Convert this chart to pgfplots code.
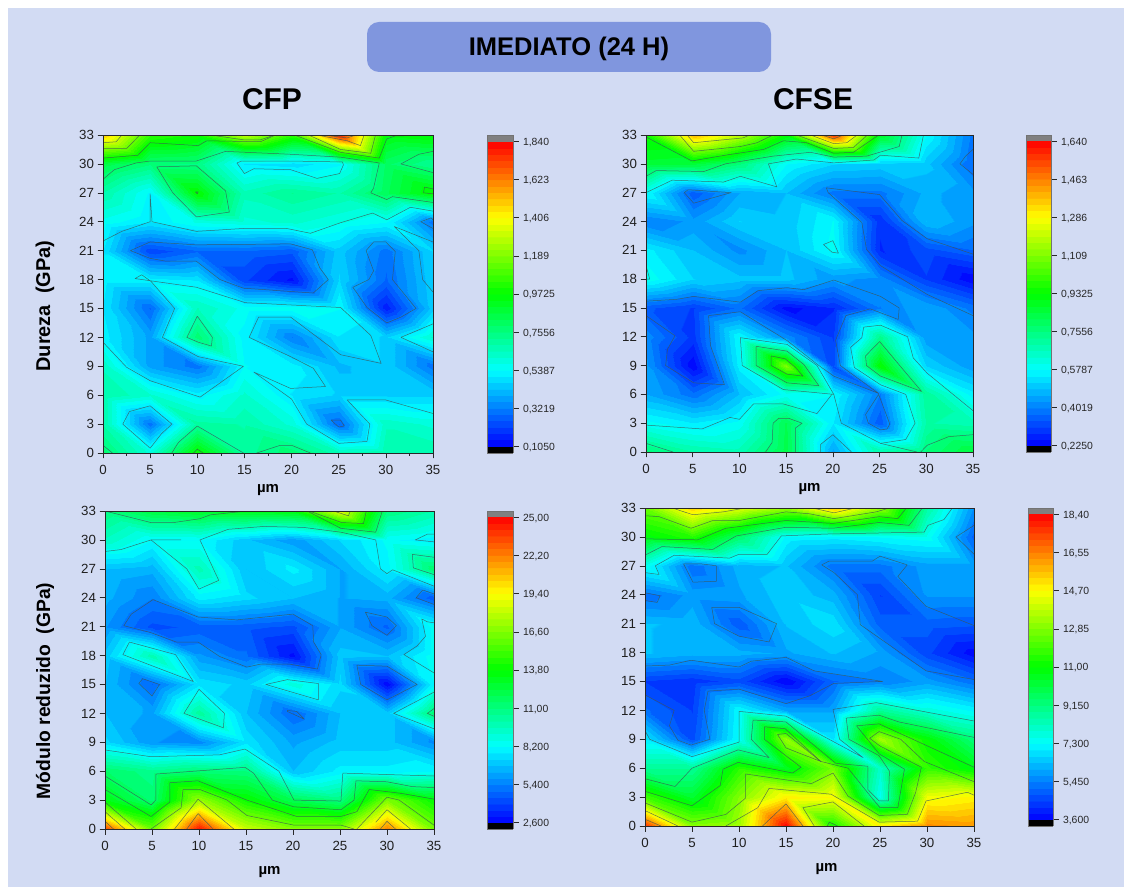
\documentclass[border=0pt]{standalone}
\usepackage{pgfplots}
\pgfplotsset{compat=1.18}
\usepackage{fontspec}
\setmainfont{Liberation Sans}
\definecolor{bgc}{RGB}{210,219,243}
\definecolor{boxc}{RGB}{128,150,222}
\definecolor{axc}{RGB}{40,40,40}
\definecolor{isoc}{RGB}{60,85,85}

% banded colour map: 48 bands, 6 per tick interval
\gdef\cmapclean{}
\foreach \k in {0,...,47}{%
  \pgfmathsetmacro\tt{(\k+0.5)/6}%
  \pgfmathtruncatemacro\R{\tt<4?0:(\tt<6?(\tt-4)/2*255:255)}%
  \pgfmathtruncatemacro\G{\tt<2?\tt/2*255:(\tt<6?255:(8-\tt)/2*255)}%
  \pgfmathtruncatemacro\B{\tt<2?255:(\tt<4?(4-\tt)/2*255:0)}%
  \pgfmathtruncatemacro\pa{\k*20}%
  \pgfmathtruncatemacro\pb{\k*20+19}%
  \xdef\cmapclean{\cmapclean rgb255(\pa)=(\R,\G,\B) rgb255(\pb)=(\R,\G,\B) }%
}
\edef\tmp{\noexpand\pgfplotsset{colormap={clean}{\cmapclean}}}\tmp
\newcommand\iso[1]{\addplot3[color=isoc,line width=0.5pt,opacity=0.8,line join=round] table[header=false,x index=0,y index=1,z expr=0,row sep=\\]{#1};}

\pgfplotsset{
  panel/.style={
    view={0}{90}, scale only axis,
    xmin=0,xmax=35,ymin=0,ymax=33,
    xtick={0,5,...,35}, ytick={0,3,...,33},
    minor x tick num=0, minor y tick num=0,
    tick align=outside, axis line style={color=axc,line width=0.8pt},
    every tick/.style={color=axc,line width=0.6pt},
    major tick length=5.5pt, minor tick length=3pt,
    tick pos=left,
    /pgf/number format/assume math mode=true,
    tick label style={font=\fontsize{13.3}{14}\selectfont,color=black!88},
    xticklabel style={yshift=-3pt},
    xlabel={\textbf{µm}},
    xlabel style={font=\fontsize{15}{16}\selectfont,yshift=-3.5pt},
    colormap name=clean,
    anchor=south west,
    axis on top,
  },
  bar/.style={
    view={0}{90}, scale only axis,
    xmin=0,xmax=1,
    xtick=\empty,
    ytick pos=right, yticklabel pos=right,
    tick align=outside, axis line style={color=black!55,line width=0.8pt},
    every tick/.style={color=axc,line width=0.6pt},
    major tick length=5.5pt,
    tick label style={font=\fontsize{10.4}{12}\selectfont,color=black!85},
    yticklabel style={yshift=-1pt,xshift=1pt},
    colormap name=clean,
    anchor=south west,
    axis on top,
  },
}
\begin{document}
\begin{tikzpicture}[x=1pt,y=1pt]
\path[use as bounding box] (0,0) rectangle (1124,887);
\fill[white] (0,0) rectangle (1124,887);
\fill[bgc] (8,0) rectangle (1124,879);
\fill[boxc,rounded corners=12pt] (367,815) rectangle (771,865);
\node[font=\fontsize{25.5}{26}\selectfont\bfseries] at (569,838.5) {IMEDIATO (24 H)};
\node[font=\fontsize{30}{30}\selectfont\bfseries] at (272,788) {CFP};
\node[font=\fontsize{30}{30}\selectfont\bfseries] at (813,788) {CFSE};
\node[rotate=90,font=\fontsize{20}{20}\selectfont\bfseries] at (45,581) {Dureza\ \ (GPa)};
\node[rotate=90,font=\fontsize{19.3}{20}\selectfont\bfseries] at (45,196) {Módulo reduzido\ \ (GPa)};

% ---- CFP Dureza
\begin{axis}[panel,minor x tick num=1,at={(103pt,434pt)},width=330pt,height=318pt]
\addplot3[surf,shader=interp,point meta min=0.105,point meta max=1.84] coordinates {
(0,33,1.50) (5,33,1.05) (10,33,1.00) (15,33,1.30) (20,33,1.05) (25,33,1.80) (30,33,0.95) (35,33,0.98)

(0,30,0.85) (5,30,0.76) (10,30,0.75) (15,30,0.50) (20,30,0.48) (25,30,0.53) (30,30,0.80) (35,30,0.72)

(0,27,0.68) (5,27,0.53) (10,27,0.98) (15,27,0.66) (20,27,0.72) (25,27,0.68) (30,27,0.82) (35,27,0.98)

(0,24,0.56) (5,24,0.50) (10,24,0.58) (15,24,0.60) (20,24,0.62) (25,24,0.58) (30,24,0.54) (35,24,0.30)

(0,21,0.50) (5,21,0.22) (10,21,0.28) (15,21,0.28) (20,21,0.26) (25,21,0.45) (30,21,0.30) (35,21,0.47)

(0,18,0.52) (5,18,0.52) (10,18,0.50) (15,18,0.22) (20,18,0.13) (25,18,0.47) (30,18,0.28) (35,18,0.46)

(0,15,0.50) (5,15,0.28) (10,15,0.65) (15,15,0.56) (20,15,0.56) (25,15,0.54) (30,15,0.15) (35,15,0.45)

(0,12,0.52) (5,12,0.38) (10,12,0.78) (15,12,0.52) (20,12,0.32) (25,12,0.50) (30,12,0.46) (35,12,0.62)

(0,9,0.64) (5,9,0.38) (10,9,0.30) (15,9,0.54) (20,9,0.52) (25,9,0.42) (30,9,0.46) (35,9,0.30)

(0,6,0.68) (5,6,0.62) (10,6,0.52) (15,6,0.62) (20,6,0.50) (25,6,0.46) (30,6,0.46) (35,6,0.46)

(0,3,0.68) (5,3,0.30) (10,3,0.70) (15,3,0.68) (20,3,0.60) (25,3,0.28) (30,3,0.64) (35,3,0.60)

(0,0,0.78) (5,0,0.60) (10,0,0.99) (15,0,0.70) (20,0,0.78) (25,0,0.66) (30,0,0.68) (35,0,0.68)
};
\iso{0 32.2\\1.4 32.3\\2 33\\}
\iso{0 31.6\\2.5 31.6\\3.9 33\\}
\iso{0 30.6\\3.7 30.9\\5 32.2\\10.1 31.9\\11 32.4\\16.7 32.3\\18.3 33\\}
\iso{11.4 33\\14.9 32.5\\16.7 32.5\\18.2 33\\}
\iso{20.3 33\\25.2 31.2\\29.3 30.6\\30.1 32.6\\31 32.9\\35 33\\}
\iso{21.8 33\\25.2 31.5\\28.4 31.1\\28.9 33\\}
\iso{22.7 33\\25.9 32.4\\27.3 31.9\\27.7 33\\}
\iso{23.4 33\\25.9 32.7\\26.8 33\\}
\iso{0 28.4\\1.2 29.4\\3.5 30.1\\5 30.3\\9.9 30.3\\13 31.3\\19.9 31\\25.2 30.7\\29.3 30.1\\28.7 27.5\\28.4 27\\30.1 26.3\\30.7 26.6\\35 26\\}
\iso{35 31.3\\33.5 31\\31.6 30\\35 29.1\\}
\iso{5.7 29.7\\9.9 29.8\\13 27.2\\13.4 25\\9.9 24.5\\7.4 27\\5.7 29.7\\}
\iso{9.8 27.1\\10.1 27.1\\10 26.9\\9.8 27.1\\}
\iso{35 27.4\\34.1 27.6\\34 27\\35 26.9\\}
\iso{14.2 30.1\\14.7 30.3\\19.9 30.3\\25.4 30.2\\25.5 29.9\\25.1 29\\22.7 28.5\\19.9 29.4\\16 29.5\\15 29\\14.2 30.1\\}
\iso{0 22\\2 23\\5 24\\5 26.9\\5.2 24\\9.9 23\\14.9 23.3\\19.5 23.3\\22 22.8\\25.2 23.9\\28.6 24.9\\30.1 24.2\\32.6 25.5\\35 25.1\\}
\iso{35 21.9\\30.9 23.5\\33.5 21\\33.9 18\\35 16.7\\}
\iso{2.9 21\\5 21.9\\9.9 21.6\\19.9 21.7\\22.2 21.1\\23 19.2\\23.9 18\\22.3 16.6\\14.9 17.1\\12.4 18\\9.9 19.9\\6.7 19.9\\5 20.2\\2.9 21\\}
\iso{27.9 21\\28.7 21.9\\30 21.9\\31 20.9\\30.7 18\\33.2 15\\31.6 14.1\\30.1 13.5\\28 15.1\\26.5 17.2\\28.2 18\\28.7 18.9\\27.9 21\\}
\iso{35 23.3\\33.7 24\\34.8 24.4\\35 24.2\\}
\iso{0 11.5\\2.5 8.9\\5 7.5\\10.3 5.8\\14.9 9\\10.1 10\\6.3 12\\7.6 15\\5.1 17.8\\4.1 18.5\\3.4 18.1\\9.9 17.2\\15.1 15.6\\25.2 15.1\\28.4 12.2\\29.5 9.3\\25.2 10.2\\19.9 14.1\\16.5 14.1\\15.5 12\\19.9 10\\22.3 8.8\\23.6 6.9\\19.9 6.7\\16 8.4\\20 5.6\\21.6 3\\25 1\\28 1.2\\28.3 3\\25.9 5.5\\30 5.5\\35 4.1\\}
\iso{10 14.2\\11.6 12\\11.5 11.1\\10.1 11.5\\8.9 12\\10 14.2\\}
\iso{35 13.4\\31.6 12\\35 10.5\\}
\iso{2.8 4.3\\5 4.9\\7.3 3\\6.2 2\\5 0.5\\2.1 3\\2.8 4.3\\}
\iso{24.2 3.4\\25.2 3.4\\25.6 2.8\\25 2.7\\24.2 3.4\\}
\iso{0 0.8\\1 0\\}
\iso{7.3 0\\8 1.1\\10 2.8\\14.9 0\\}
\iso{16.3 0\\18.8 0.8\\20 0.8\\22 0\\}
\iso{9.6 0\\10 0.4\\10.6 0\\}
\end{axis}
\begin{axis}[bar,at={(487pt,434pt)},width=26pt,height=318pt,ymin=0.068,ymax=1.877,
  ytick={0.105,0.3219,0.5387,0.7556,0.9725,1.189,1.406,1.623,1.84},
  yticklabels={{0,1050},{0,3219},{0,5387},{0,7556},{0,9725},{1,189},{1,406},{1,623},{1,840}}]
\addplot3[fill=black,draw=none] coordinates {(0,0.068,0) (1,0.068,0) (1,0.105,0) (0,0.105,0)} -- cycle;
\addplot3[fill=gray,draw=none] coordinates {(0,1.84,0) (1,1.84,0) (1,1.877,0) (0,1.877,0)} -- cycle;
\addplot3[surf,shader=interp,point meta=y,point meta min=0.105,point meta max=1.84] coordinates {
(0,0.105,0) (1,0.105,0)

(0,1.84,0) (1,1.84,0)
};
\end{axis}

% ---- CFSE Dureza
\begin{axis}[panel,at={(646pt,435pt)},width=327pt,height=317pt]
\addplot3[surf,shader=interp,point meta min=0.225,point meta max=1.64] coordinates {
(0,33,0.95) (5,33,1.39) (10,33,1.20) (15,33,0.93) (20,33,1.57) (25,33,0.88) (30,33,0.58) (35,33,0.39)

(0,30,0.86) (5,30,0.85) (10,30,0.76) (15,30,0.58) (20,30,0.52) (25,30,0.51) (30,30,0.50) (35,30,0.37)

(0,27,0.58) (5,27,0.35) (10,27,0.46) (15,27,0.49) (20,27,0.39) (25,27,0.39) (30,27,0.47) (35,27,0.44)

(0,24,0.40) (5,24,0.44) (10,24,0.52) (15,24,0.50) (20,24,0.58) (25,24,0.29) (30,24,0.49) (35,24,0.44)

(0,21,0.56) (5,21,0.49) (10,21,0.42) (15,21,0.49) (20,21,0.59) (25,21,0.28) (30,21,0.33) (35,21,0.37)

(0,18,0.60) (5,18,0.52) (10,18,0.50) (15,18,0.50) (20,18,0.44) (25,18,0.42) (30,18,0.31) (35,18,0.23)

(0,15,0.35) (5,15,0.31) (10,15,0.38) (15,15,0.24) (20,15,0.28) (25,15,0.40) (30,15,0.46) (35,15,0.39)

(0,12,0.42) (5,12,0.30) (10,12,0.58) (15,12,0.42) (20,12,0.31) (25,12,0.74) (30,12,0.44) (35,12,0.44)

(0,9,0.44) (5,9,0.23) (10,9,0.56) (15,9,1.11) (20,9,0.33) (25,9,0.94) (30,9,0.52) (35,9,0.44)

(0,6,0.46) (5,6,0.38) (10,6,0.49) (15,6,0.59) (20,6,0.58) (25,6,0.40) (30,6,0.72) (35,6,0.56)

(0,3,0.59) (5,3,0.55) (10,3,0.59) (15,3,0.82) (20,3,0.55) (25,3,0.35) (30,3,0.70) (35,3,0.68)

(0,0,0.77) (5,0,0.70) (10,0,0.68) (15,0,0.83) (20,0,0.45) (25,0,0.70) (30,0,0.76) (35,0,0.85)
};
\iso{0 28.7\\1.1 29.3\\6.2 29.2\\8.5 30\\13.6 30.8\\17.6 31.2\\20.1 30.7\\23.6 30.8\\27.1 31.8\\27.4 33\\}
\iso{0 32.8\\4.9 30.3\\8.5 30.9\\12.6 31.5\\14.7 32.4\\17.2 32.2\\20.1 31.1\\22.2 31.2\\24.9 33\\}
\iso{3.6 33\\5.1 31.3\\10.1 31.8\\11.9 32.2\\13.6 33\\}
\iso{16.1 33\\20.1 31.6\\22.2 31.7\\23.7 33\\}
\iso{4.4 33\\5.1 32.2\\10.4 32.7\\11.1 33\\}
\iso{17.6 33\\20.1 32.1\\21.5 32.2\\22.6 33\\}
\iso{18.8 33\\20.1 32.6\\21.1 33\\}
\iso{0 27\\2.8 28.3\\8.3 28.1\\10.1 28.7\\14 27.6\\13.1 30\\16.1 30.5\\20.1 30.1\\24.4 30.4\\25.1 30.9\\29.2 30.6\\29.7 33\\}
\iso{35 28.9\\33.6 30\\34.2 30.8\\35 31.5\\}
\iso{4.1 27\\4.5 27.3\\9.1 27\\5.1 25.9\\4.1 27\\}
\iso{35 14.2\\30.1 16.4\\25.1 19.4\\23.6 21.1\\23.1 23.9\\19.5 27\\19.3 27.5\\25 26.8\\27.4 24.1\\30.1 22.2\\35 20.6\\}
\iso{19 21.6\\20 22\\20.6 20.7\\19.9 20.8\\19 21.6\\}
\iso{0 19.4\\0.4 18\\0 18\\}
\iso{0 15.7\\3.3 15.9\\5.1 16.2\\10.1 15.6\\12 16.8\\15.1 17.1\\16.9 16.9\\20.1 17.9\\25.1 16.2\\27.1 15\\27 13.8\\24 14.9\\21.4 14.2\\20.4 11.9\\20.3 11.6\\20.8 9\\24.9 6.1\\20.1 7.9\\18.5 9\\15.1 11.6\\10.1 14.6\\6.7 14.2\\6.9 11.1\\8.4 7\\5.1 7.2\\2.1 9\\2.3 10.7\\3.1 12.1\\0 14.2\\}
\iso{10.1 11.9\\15.1 11.2\\18.3 9\\20.1 6\\14.7 6.5\\10.3 9\\10.1 11.9\\}
\iso{11.8 11\\15.1 10.5\\16.9 9.1\\18.5 6.9\\15.1 7.2\\11.8 9\\11.8 11\\}
\iso{13.4 10\\14.9 9.7\\16 8.8\\16.8 7.9\\15.1 8.1\\13.4 9\\13.4 10\\}
\iso{20.1 6\\20.9 3\\25.1 0.9\\29 0\\}
\iso{29.4 0\\30.1 0.7\\32.4 1.6\\35 1.8\\}
\iso{35 4.3\\30.1 8.2\\28.6 9.8\\28 12\\25.1 13.2\\23.3 13\\23.1 11.9\\21.9 10.9\\22.3 8.8\\25.1 7\\27.8 6\\28.8 3\\27.8 1.3\\25.1 0.9\\}
\iso{25 11.5\\29.5 6.3\\25.1 7.9\\23.6 9\\23.5 10\\25 11.5\\}
\iso{24.9 6\\26.1 2.9\\25.8 2.4\\25.1 2.3\\23.8 3\\23.5 3.9\\24.9 6\\}
\iso{0 2.8\\6 2.4\\9 3.6\\10 3.4\\11.5 5\\14.7 5\\18.3 4\\19.9 6\\}
\iso{12.8 0\\13.5 1\\13.6 3\\14.2 3.5\\15.3 3.5\\16.7 3\\16 2.5\\16 0\\}
\iso{0 0.9\\2.9 0\\}
\iso{18.7 0\\18.7 0.8\\20 1.8\\22 0\\}
\end{axis}
\begin{axis}[bar,at={(1026pt,435pt)},width=25pt,height=317pt,ymin=0.195,ymax=1.67,
  ytick={0.225,0.4019,0.5787,0.7556,0.9325,1.109,1.286,1.463,1.64},
  yticklabels={{0,2250},{0,4019},{0,5787},{0,7556},{0,9325},{1,109},{1,286},{1,463},{1,640}}]
\addplot3[fill=black,draw=none] coordinates {(0,0.195,0) (1,0.195,0) (1,0.225,0) (0,0.225,0)} -- cycle;
\addplot3[fill=gray,draw=none] coordinates {(0,1.64,0) (1,1.64,0) (1,1.67,0) (0,1.67,0)} -- cycle;
\addplot3[surf,shader=interp,point meta=y,point meta min=0.225,point meta max=1.64] coordinates {
(0,0.225,0) (1,0.225,0)

(0,1.64,0) (1,1.64,0)
};
\end{axis}

% ---- CFP Modulo
\begin{axis}[panel,xlabel style={yshift=-6pt},at={(105pt,58pt)},width=329pt,height=318pt]
\addplot3[surf,shader=interp,point meta min=2.6,point meta max=25] coordinates {
(0,33,11.0) (5,33,12.4) (10,33,13.0) (15,33,13.2) (20,33,13.5) (25,33,19.0) (30,33,11.0) (35,33,10.0)

(0,30,9.5) (5,30,8.2) (10,30,8.2) (15,30,6.9) (20,30,6.0) (25,30,7.3) (30,30,8.3) (35,30,7.9)

(0,27,6.8) (5,27,6.5) (10,27,9.8) (15,27,6.8) (20,27,7.9) (25,27,6.3) (30,27,8.0) (35,27,11.4)

(0,24,6.5) (5,24,5.4) (10,24,7.9) (15,24,7.4) (20,24,6.8) (25,24,6.3) (30,24,6.5) (35,24,4.6)

(0,21,5.9) (5,21,4.3) (10,21,4.6) (15,21,4.6) (20,21,4.3) (25,21,6.3) (30,21,4.8) (35,21,8.5)

(0,18,7.0) (5,18,9.9) (10,18,6.0) (15,18,5.0) (20,18,2.9) (25,18,7.0) (30,18,6.8) (35,18,8.5)

(0,15,6.8) (5,15,4.9) (10,15,7.6) (15,15,7.1) (20,15,9.0) (25,15,7.4) (30,15,2.7) (35,15,8.2)

(0,12,6.8) (5,12,6.2) (10,12,10.4) (15,12,6.8) (20,12,4.9) (25,12,6.8) (30,12,7.0) (35,12,11.3)

(0,9,7.4) (5,9,5.9) (10,9,5.6) (15,9,7.6) (20,9,6.2) (25,9,7.0) (30,9,7.0) (35,9,5.7)

(0,6,11.5) (5,6,10.7) (10,6,11.3) (15,6,11.0) (20,6,6.8) (25,6,7.9) (30,6,7.9) (35,6,8.2)

(0,3,13.4) (5,3,11.3) (10,3,17.2) (15,3,14.0) (20,3,12.0) (25,3,11.0) (30,3,16.6) (35,3,13.8)

(0,0,23.6) (5,0,16.3) (10,0,24.7) (15,0,18.3) (20,0,16.8) (25,0,16.8) (30,0,22.2) (35,0,16.4)
};
\iso{0 33\\4.9 31.8\\7.3 31.8\\10.1 32.2\\11.2 32.6\\15.1 33\\}
\iso{21.7 33\\25.2 31.8\\27.5 31.7\\27.8 33\\}
\iso{24.3 33\\25.9 32.5\\26.1 33\\}
\iso{0 28.8\\1.7 29\\4.9 30\\8.1 30\\}
\iso{4.9 30\\8.7 27\\10 24.9\\12.1 25.8\\10.1 30\\13.1 31.1\\16.9 31.4\\21.1 31.3\\25.1 30.8\\28.8 30\\29.3 27\\30 26.5\\30.6 26.9\\35 25.2\\}
\iso{21.5 33\\25.1 31.2\\28.8 30.8\\29.5 33\\}
\iso{35 30.6\\34.3 30.6\\33 30\\35 29.8\\}
\iso{35 28.2\\32.7 28.5\\32.8 27.1\\35 26.4\\}
\iso{2 21.1\\2.8 22.3\\5.1 23.8\\9.9 22\\14 21.7\\20 22.3\\22.1 21.1\\22.2 19.4\\23 18.1\\22.6 16.6\\19.7 17.1\\16.5 17.1\\15.1 16.8\\12.2 17.9\\9.9 19.4\\7.6 19.4\\4.8 20.4\\2 21.1\\}
\iso{3.6 15.1\\4 15.6\\5.8 15\\5 13.8\\3.6 15.1\\}
\iso{2.6 19.4\\7.5 18.1\\9.4 15.3\\1.9 18.1\\2.6 19.4\\}
\iso{10 14.5\\12.7 12\\12.6 10.5\\8.4 12\\10 14.5\\}
\iso{17.1 15\\19.4 15.5\\22.7 15.1\\22.7 13.4\\17.1 15\\}
\iso{19.4 12.3\\20.4 12.2\\21.2 11.4\\19.4 12.2\\19.4 12.3\\}
\iso{27.7 22.5\\30 22\\31 21.1\\30 20.1\\28.4 21.1\\27.7 22.5\\}
\iso{26.8 17\\30 16.9\\33.2 15\\30 13.4\\27.2 15\\26.8 17\\}
\iso{35 24.4\\33.8 24.8\\33.1 24\\35 23.3\\}
\iso{35 21.4\\34.3 21.5\\33.7 21.8\\34.1 20\\33.2 19\\31.8 18.1\\35 16.2\\}
\iso{35 14.2\\30.7 12\\35 10.4\\}
\iso{35 12.5\\34.3 12\\35 11.7\\}
\iso{0 8.2\\4.9 7.5\\12.2 7.7\\14.9 8.3\\18.5 6\\20.1 3\\25.1 2.9\\25.3 5.8\\35 5.5\\}
\iso{0 5.5\\4.9 2.5\\5.4 3\\5.4 5.7\\14.9 6.4\\15.8 5.8\\17.8 3\\20.1 2.3\\25.1 2\\26.5 3\\26.7 5\\30 4.9\\32.7 4.4\\35 4.3\\}
\iso{0 4.1\\4.9 1.3\\6.9 2.8\\6.9 4.8\\9.9 5\\15.1 3\\20.4 1.3\\25.1 1.3\\26.8 1.8\\28.1 4.1\\31.5 3.7\\35 3.1\\}
\iso{0 2.8\\3.3 0\\}
\iso{4.9 0\\8.1 2.2\\8.3 4.1\\10.1 4.1\\13 3\\15.1 1.4\\20.1 0.4\\25.1 0.4\\26.5 0\\}
\iso{26.8 0\\30 3.3\\31.3 3\\35 0.4\\}
\iso{0 1.8\\2.1 0\\}
\iso{7.4 0\\9.9 3.1\\13.7 0\\}
\iso{28.8 0.7\\30 2\\32.5 0\\}
\iso{0 0.8\\0.9 0\\}
\iso{8.7 0\\9.9 1.6\\11.5 0\\}
\iso{29.3 0\\30 0.8\\30.9 0\\}
\end{axis}
\begin{axis}[bar,at={(487pt,58pt)},width=26pt,height=318pt,ymin=2.123,ymax=25.477,
  ytick={2.6,5.4,8.2,11,13.8,16.6,19.4,22.2,25},
  yticklabels={{2,600},{5,400},{8,200},{11,00},{13,80},{16,60},{19,40},{22,20},{25,00}}]
\addplot3[fill=black,draw=none] coordinates {(0,2.123,0) (1,2.123,0) (1,2.6,0) (0,2.6,0)} -- cycle;
\addplot3[fill=gray,draw=none] coordinates {(0,25,0) (1,25,0) (1,25.477,0) (0,25.477,0)} -- cycle;
\addplot3[surf,shader=interp,point meta=y,point meta min=2.6,point meta max=25] coordinates {
(0,2.6,0) (1,2.6,0)

(0,25,0) (1,25,0)
};
\end{axis}

% ---- CFSE Modulo
\begin{axis}[panel,xlabel style={yshift=-6pt,xshift=17pt},at={(645pt,61pt)},width=329pt,height=318pt]
\addplot3[surf,shader=interp,point meta min=3.6,point meta max=18.4] coordinates {
(0,33,12.5) (5,33,15.4) (10,33,14.3) (15,33,13.2) (20,33,15.6) (25,33,13.2) (30,33,8.6) (35,33,5.7)

(0,30,10.8) (5,30,11.5) (10,30,9.4) (15,30,7.2) (20,30,7.1) (25,30,7.3) (30,30,7.5) (35,30,5.0)

(0,27,7.5) (5,27,5.2) (10,27,6.2) (15,27,6.4) (20,27,5.3) (25,27,5.3) (30,27,5.9) (35,27,5.9)

(0,24,5.2) (5,24,5.9) (10,24,6.0) (15,24,6.6) (20,24,6.2) (25,24,4.5) (30,24,5.8) (35,24,5.8)

(0,21,6.4) (5,21,6.3) (10,21,4.9) (15,21,6.4) (20,21,6.9) (25,21,5.0) (30,21,5.0) (35,21,4.9)

(0,18,6.4) (5,18,6.2) (10,18,6.2) (15,18,6.0) (20,18,6.4) (25,18,6.0) (30,18,4.6) (35,18,3.7)

(0,15,4.5) (5,15,4.3) (10,15,4.7) (15,15,3.6) (20,15,5.1) (25,15,5.45) (30,15,5.9) (35,15,5.2)

(0,12,5.2) (5,12,4.5) (10,12,7.3) (15,12,6.0) (20,12,6.0) (25,12,8.8) (30,12,7.8) (35,12,7.2)

(0,9,7.0) (5,9,4.7) (10,9,7.4) (15,9,13.2) (20,9,6.9) (25,9,13.4) (30,9,11.0) (35,9,9.2)

(0,6,8.8) (5,6,8.8) (10,6,11.6) (15,6,10.5) (20,6,12.7) (25,6,8.0) (30,6,11.7) (35,6,10.7)

(0,3,11.9) (5,3,10.3) (10,3,12.9) (15,3,14.9) (20,3,14.7) (25,3,7.5) (30,3,14.5) (35,3,14.8)

(0,0,17.7) (5,0,13.0) (10,0,13.4) (15,0,18.4) (20,0,11.2) (25,0,14.9) (30,0,16.4) (35,0,16.2)
};
\iso{2.9 33\\5.1 32.3\\8.3 32.6\\10.7 33\\}
\iso{17.8 33\\20.1 32.5\\22.4 33\\}
\iso{0 32.2\\1.5 32.1\\4.9 30.9\\7.2 31.7\\10 31.7\\15 32.6\\17.5 32.4\\20.1 31.9\\24.6 32.6\\26 33\\}
\iso{0 29.8\\5.6 29.7\\8.6 30.9\\15 31.7\\20 31.4\\24.9 32.1\\26.9 31.9\\27.8 33\\}
\iso{0 28.1\\1.8 29\\7.2 28.7\\9.7 30.1\\15 31\\20 30.9\\24.9 31.5\\28.1 31.2\\29.5 33\\}
\iso{0 26.3\\1.5 26.1\\1.1 27\\3.1 28.1\\9 27.8\\10 28.2\\13 28.2\\14.5 30.1\\19.3 30.3\\29.7 30.5\\30.1 31.2\\31.8 31.8\\32.7 33\\}
\iso{35 28.2\\33.1 30\\35 31.2\\}
\iso{4.1 27.2\\6 27.2\\7.6 27\\7.6 25.4\\5.1 25.3\\4.1 27.2\\}
\iso{0 24.2\\1.6 23.9\\1.3 23.2\\0 23.4\\}
\iso{7.1 22.7\\10 22.7\\14 21\\13.2 19.1\\10 19.7\\7.4 21\\7.1 22.7\\}
\iso{35 20.8\\29.9 22.8\\26.9 25.9\\27.9 27.1\\25 28\\24.2 27.5\\19.6 27.5\\18.8 27.1\\20.1 26.3\\22.6 24\\22.9 20.9\\29.9 16.1\\35 15.2\\}
\iso{0 16.6\\2.6 16.7\\4.9 17.2\\10 16.5\\11.3 17.1\\15 17.5\\18 16.1\\25.3 15\\20.1 14.8\\17.5 13.5\\15 12.7\\10 14.2\\6.7 14\\6.3 12\\6.9 9\\4.9 8.4\\3.5 8.9\\2.6 10.4\\3.1 12\\0 13.6\\}
\iso{0 9.9\\0.5 9\\5 7.2\\10 8.7\\10 11.9\\15 11.4\\23.2 7.1\\20.7 9\\20 12.1\\24.6 12.8\\35 10.9\\}
\iso{0 4.9\\3.2 4.1\\5 6\\9.9 7.9\\13.2 7.1\\11.3 9\\11.5 11\\15 10.8\\20.3 6.5\\23.7 6.2\\23.7 3.8\\24.9 2.6\\25.9 2.6\\26 5.7\\24.9 7.3\\21.7 9\\21.4 11.2\\24.9 11.5\\27 10.8\\35 9.2\\}
\iso{0 3.6\\5 2.1\\8 4.2\\8.3 5.9\\9.9 6.6\\15.7 5.5\\16.6 6.1\\12.7 9\\12.7 10.3\\14.9 10.1\\18.7 6.7\\21.6 6\\23.9 3.2\\25 1.9\\26.9 1.9\\27.6 5.9\\24.9 7.5\\22.5 10.4\\24.9 10.6\\35 6.1\\}
\iso{0 2.4\\5 0.4\\8.6 1.2\\10.7 2.9\\10.7 5.4\\17.7 4.4\\20 5.5\\21.6 3.1\\24.9 1.1\\27.9 1.2\\28.8 3.5\\29.4 6.1\\25 8.3\\23.9 9.1\\24.9 9.8\\27.2 9\\29.7 6.7\\35 4.6\\}
\iso{14.1 9.5\\15 9.6\\18.7 6.7\\15 8.1\\14.1 9.5\\}
\iso{0 1.6\\3.5 0\\}
\iso{0 0.7\\1.7 0\\}
\iso{8.6 0\\12 1.9\\13.2 3.9\\19.8 3.3\\24.9 0.4\\29 0.5\\29.9 2.6\\34.3 3.5\\35 3.2\\}
\iso{18 0\\16.8 1.9\\20 2.5\\23.3 0\\}
\iso{12.5 0\\15 2.3\\16.8 0\\}
\iso{19.4 0\\19.6 0.4\\20.5 0\\}
\end{axis}
\begin{axis}[bar,at={(1028pt,61pt)},width=25pt,height=318pt,ymin=3.285,ymax=18.715,
  ytick={3.6,5.45,7.3,9.15,11,12.85,14.7,16.55,18.4},
  yticklabels={{3,600},{5,450},{7,300},{9,150},{11,00},{12,85},{14,70},{16,55},{18,40}}]
\addplot3[fill=black,draw=none] coordinates {(0,3.285,0) (1,3.285,0) (1,3.6,0) (0,3.6,0)} -- cycle;
\addplot3[fill=gray,draw=none] coordinates {(0,18.4,0) (1,18.4,0) (1,18.715,0) (0,18.715,0)} -- cycle;
\addplot3[surf,shader=interp,point meta=y,point meta min=3.6,point meta max=18.4] coordinates {
(0,3.6,0) (1,3.6,0)

(0,18.4,0) (1,18.4,0)
};
\end{axis}
\end{tikzpicture}
\end{document}
